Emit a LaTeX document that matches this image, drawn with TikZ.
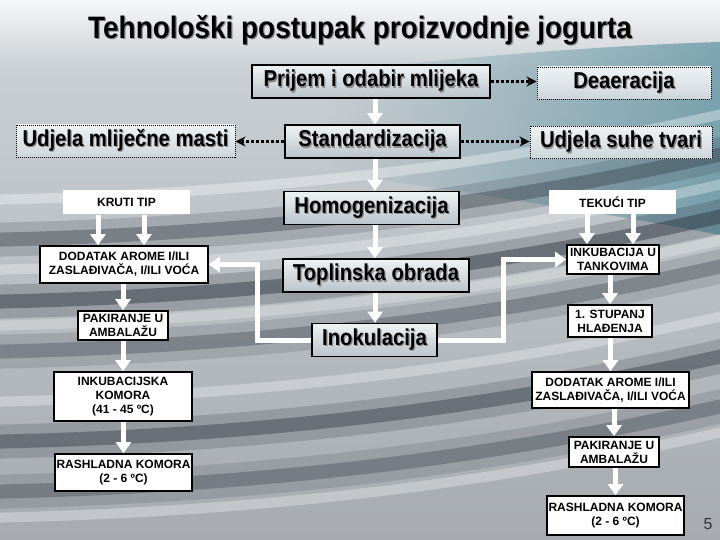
\documentclass[tikz,border=0pt]{standalone}
\usepackage{graphicx}
\usepackage{fontspec}
\setmainfont{Liberation Sans}
\usetikzlibrary{arrows.meta,fadings}

\definecolor{bgtop}{HTML}{F6F7F8}
\definecolor{bgmid}{HTML}{C9CFD3}
\definecolor{bgbot}{HTML}{A7ABB0}
\definecolor{bgteal}{HTML}{5F93A3}
\definecolor{bgdark}{HTML}{2A333D}
\definecolor{boxtop}{HTML}{EEF2F4}
\definecolor{boxbot}{HTML}{BAC4CB}

\tikzfading[name=fadeleft, left color=transparent!100, right color=transparent!0]

\newcommand\shtxt[1]{\makebox[0pt][l]{\kern1.4pt\raisebox{-1.4pt}{\textcolor{black!45}{#1}}}#1}
\newcommand\boxtxt[1]{\scalebox{0.88}[1]{\shtxt{#1}}}

\begin{document}
\begin{tikzpicture}[
	x=1pt,
	y=-1pt,
	line join=miter,
	mainbox/.style={draw=black, line width=1.6pt, top color=boxtop, bottom color=boxbot,
		minimum height=33pt, inner sep=0pt, font=\fontsize{23}{25}\selectfont\bfseries},
	dotbox/.style={draw=black, line width=0.9pt, dash pattern=on 1pt off 1pt, top color=boxtop,
		bottom color=boxbot!60!boxtop, minimum height=32pt, inner sep=0pt,
		font=\fontsize{23}{25}\selectfont\bfseries},
	capbox/.style={draw=black, line width=1.6pt, fill=white, align=center, inner sep=0pt,
		font=\fontsize{12}{14}\selectfont\bfseries},
	tipbox/.style={fill=white, inner sep=0pt, minimum width=127pt, minimum height=24pt,
		font=\fontsize{12}{14}\selectfont\bfseries},
	warrow/.style={white, line width=5pt, -{Triangle[width=15pt,length=11pt]}},
	darrow/.style={black, line width=3pt, dash pattern=on 3pt off 2pt, -{Stealth[length=10pt,width=10pt]}},
	wave/.style={line cap=round},
	]
\useasboundingbox (0,0) rectangle (720,540);
% background
\shade[top color=bgtop, bottom color=bgmid] (0,0) rectangle (720,70);
\shade[top color=bgmid, bottom color=bgbot] (0,70) rectangle (720,540);
\fill[bgteal, path fading=fadeleft, opacity=.75] (330,72) .. controls (480,55) and (620,45) .. (720,42)
	-- (720,235) .. controls (620,215) and (480,195) .. (330,172) -- cycle;
\foreach \y/\o in {240/.35, 302/.45, 352/.3, 442/.4, 492/.3}
	{
	\draw[wave, bgdark, line width=34pt, opacity=\o*.5] (-20,\y) .. controls (240,\y-5) and (480,\y-30) .. (740,\y-90);
	\draw[wave, bgdark, line width=14pt, opacity=\o] (-20,\y) .. controls (240,\y-5) and (480,\y-30) .. (740,\y-90);
	}
\foreach \y/\o in {200/.35, 270/.3, 326/.25, 402/.3, 518/.3}
	\draw[wave, white, line width=10pt, opacity=\o] (-20,\y) .. controls (240,\y-5) and (480,\y-30) .. (740,\y-90);
% title
\node (title) at (360,31) {\fontsize{31}{33}\selectfont\bfseries\scalebox{0.9}[1]{\shtxt{Tehnološki postupak proizvodnje jogurta}}};
% main column
\node[mainbox, minimum width=238pt] (prijem) at (371,81.5) {\boxtxt{Prijem i odabir mlijeka}};
\node[mainbox, minimum width=175pt] (stand) at (372.5,141.5) {\boxtxt{Standardizacija}};
\node[mainbox, minimum width=175pt] (homog) at (371.5,208) {\boxtxt{Homogenizacija}};
\node[mainbox, minimum width=186pt] (topl) at (376,275.5) {\boxtxt{Toplinska obrada}};
\node[mainbox, minimum width=125pt] (inok) at (374.5,340) {\boxtxt{Inokulacija}};
% side boxes
\node[dotbox, minimum width=174pt] (deaer) at (624,83) {\boxtxt{Deaeracija}};
\node[dotbox, minimum width=182pt] (suhe) at (621,142.5) {\boxtxt{Udjela suhe tvari}};
\node[dotbox, minimum width=219pt] (masti) at (125.5,141) {\boxtxt{Udjela mliječne masti}};
% left branch
\node[tipbox] (kruti) at (126.5,202.5) {KRUTI TIP};
\node[capbox, minimum width=168pt, minimum height=37pt] (dodL) at (124,264.5) {DODATAK AROME I/ILI\\ZASLAĐIVAČA, I/ILI VOĆA};
\node[capbox, minimum width=90pt, minimum height=29pt] (pakL) at (123,325.5) {PAKIRANJE U\\AMBALAŽU};
\node[capbox, minimum width=138pt, minimum height=49pt] (inkK) at (123,396.5) {INKUBACIJSKA\\KOMORA\\(41 - 45 ºC)};
\node[capbox, minimum width=137pt, minimum height=37pt] (rashL) at (123.5,472.5) {RASHLADNA KOMORA\\(2 - 6 ºC)};
% right branch
\node[tipbox] (tekuci) at (612.5,202) {TEKUĆI TIP};
\node[capbox, minimum width=92pt, minimum height=29pt] (inkT) at (613,259.5) {INKUBACIJA U\\TANKOVIMA};
\node[capbox, minimum width=84pt, minimum height=32pt] (stup) at (610,321) {1. STUPANJ\\HLAĐENJA};
\node[capbox, minimum width=157pt, minimum height=36pt] (dodR) at (610.5,390) {DODATAK AROME I/ILI\\ZASLAĐIVAČA, I/ILI VOĆA};
\node[capbox, minimum width=90pt, minimum height=30pt] (pakR) at (614,452) {PAKIRANJE U\\AMBALAŽU};
\node[capbox, minimum width=137pt, minimum height=39pt] (rashR) at (615.5,515.5) {RASHLADNA KOMORA\\(2 - 6 ºC)};
\node[text=black!80] (pagenum) at (708,524) {\fontsize{16}{16}\selectfont 5};
% connectors
\coordinate (axis) at (375,0);
\foreach \a/\b in {prijem/stand, stand/homog, homog/topl, topl/inok}
	\draw[warrow] (axis |- \a.south) -- (axis |- \b.north);
\foreach \a/\b in {dodL/pakL, pakL/inkK, inkK/rashL, inkT/stup, stup/dodR, dodR/pakR, pakR/rashR}
	\draw[warrow] (\b.north |- \a.south) -- (\b.north);
\foreach \s in {-28.5, 17.5}
	{
	\draw[warrow] ([xshift=\s]kruti.south) -- ([xshift=\s]kruti.south |- dodL.north);
	\draw[warrow] ([xshift=\s+3]tekuci.south) -- ([xshift=\s+3]tekuci.south |- inkT.north);
	}
\draw[warrow] (inok.west) -- ++(-54,0) |- (dodL.east);
\draw[warrow] (inok.east) -- ++(66,0) |- (inkT.west);
\draw[darrow] (prijem.east) -- (prijem.east -| deaer.west);
\draw[darrow] (stand.east) -- (stand.east -| suhe.west);
\draw[darrow] (stand.west) -- (stand.west -| masti.east);
\end{tikzpicture}
\end{document}
